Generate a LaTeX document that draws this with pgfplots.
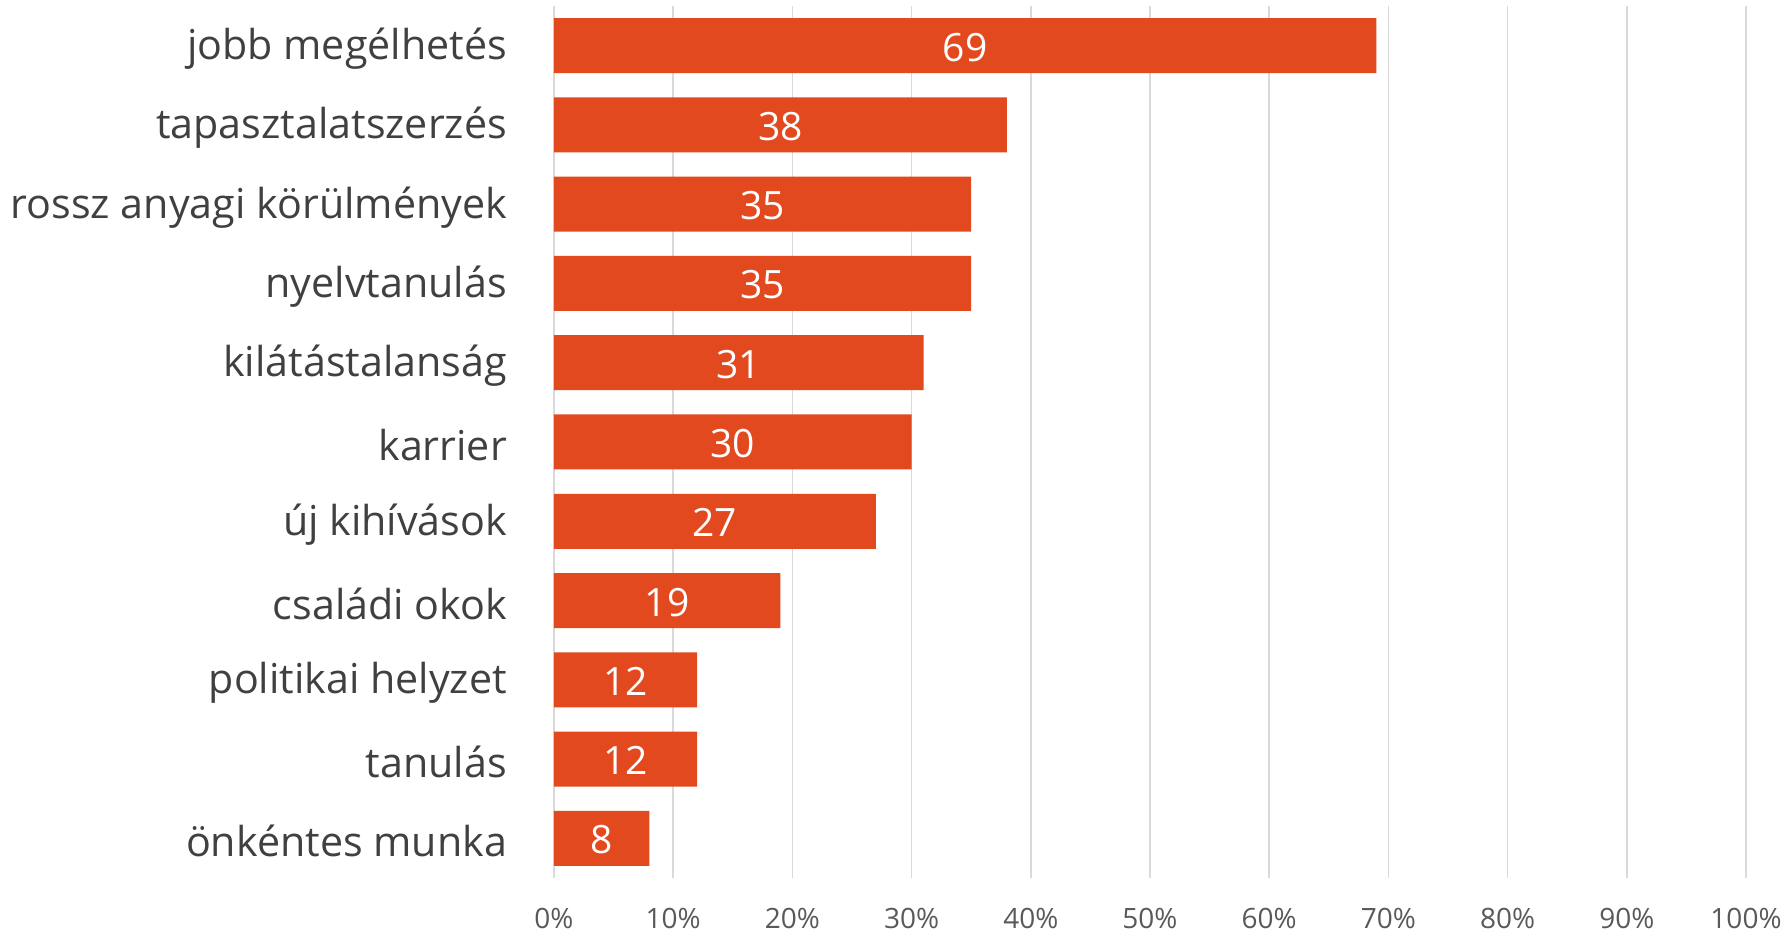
\documentclass[border=0pt]{standalone}
\usepackage{pgfplots}
\pgfplotsset{compat=1.18}
\usepackage{fontspec}
\setmainfont{Open Sans}
\definecolor{barc}{HTML}{E2491F}
\definecolor{gridc}{HTML}{D9D9D9}
\definecolor{tickc}{HTML}{595959}
\definecolor{labc}{HTML}{404040}
\begin{document}
\begin{tikzpicture}
\begin{axis}[
  scale only axis,
  width=596pt, height=436pt,
  xbar, bar width=27.5pt,
  xmin=0, xmax=100,
  ymin=-0.5, ymax=10.5,
  y dir=reverse,
  xtick={0,10,...,100},
  xticklabel={\pgfmathprintnumber{\tick}\%},
  /pgf/number format/assume math mode=true,
  ytick={0,...,10},
  yticklabels={jobb megélhetés,tapasztalatszerzés,rossz anyagi körülmények,nyelvtanulás,kilátástalanság,karrier,új kihívások,családi okok,politikai helyzet,tanulás,önkéntes munka},
  xmajorgrids, grid style={gridc, line width=0.8pt},
  axis line style={draw=none},
  major tick length=0pt,
  xticklabel style={font=\fontsize{14}{16}\selectfont, text=tickc, yshift=-11.5pt},
  yticklabel style={font=\fontsize{20.6}{24}\selectfont, text=labc, xshift=-20pt, yshift=-1.5pt},
  nodes near coords,
  visualization depends on={x \as \xval},
  every node near coord/.append style={anchor=center, text=white, font=\fontsize{19.5}{22}\selectfont, shift={(axis direction cs:-0.5*\xval,0)}, yshift=-0.8pt},
]
\addplot[fill=barc, draw=none] coordinates {
(69,0) (38,1) (35,2) (35,3) (31,4) (30,5) (27,6) (19,7) (12,8) (12,9) (8,10)
};
\end{axis}
\pgfresetboundingbox
\path ([xshift=-277pt,yshift=-28pt]current axis.south west) rectangle ([xshift=20.5pt,yshift=3pt]current axis.north east);
\end{tikzpicture}
\end{document}
